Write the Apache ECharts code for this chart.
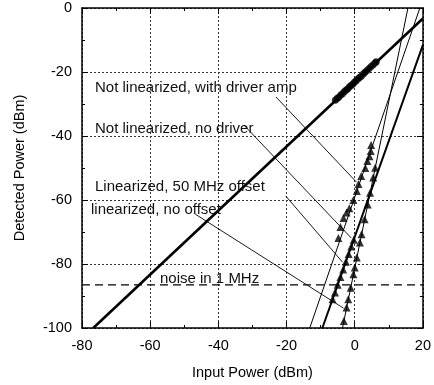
<!DOCTYPE html>
<html>
<head>
<meta charset="utf-8">
<script src="https://cdn.jsdelivr.net/npm/echarts@6.0.0/dist/echarts.min.js"></script>
<style>
html,body{margin:0;padding:0;background:#fff;}
#chart{width:434px;height:385px;}
</style>
</head>
<body>
<div id="chart"></div>
<script>
// axis ranges and ticks
const xTicks = [-80, -60, -40, -20, 0, 20];
const yTicks = [-100, -80, -60, -40, -20, 0];
const noiseLevel = -86.5;

// Not linearized, with driver amp – fundamental (circles)
const fundX = [-5.7, -5.2, -4.7, -4.1, -3.6, -3.1, -2.6, -2.1, -1.6, -1.1, -0.6, -0.1, 0.4, 0.9, 1.4, 1.9, 2.5, 3.0, 3.6, 4.2, 4.8, 5.4, 6.0, 6.3];
const fundY = [-28.8, -28.3, -27.9, -27.2, -26.8, -26.2, -25.7, -25.3, -24.7, -24.2, -23.8, -23.2, -22.7, -22.2, -21.7, -21.3, -20.6, -20.1, -19.5, -18.9, -18.3, -17.7, -17.1, -16.8];

// triangles
const driverX = [4.8, 4.7, 4.3, 3.7, 3.1, 1.9, 1.1, 0.6, -0.4, -1.6, -2.4, -3.3, -4.2, -4.8];
const driverY = [-42.8, -44.7, -46.3, -47.8, -50.0, -52.5, -55.0, -57.2, -60.0, -62.6, -63.9, -65.6, -68.4, -71.9];
const noDriverX = [-0.3, -1.0, -1.8, -2.6, -3.4, -4.2, -5.0, -5.8, -6.5];
const noDriverY = [-72.4, -74.5, -76.9, -79.3, -81.7, -84.1, -86.5, -88.9, -91.0];
const linX = [6.0, 5.4, 4.5, 3.8, 2.9, 2.0, 1.5, 0.6, 0.0, -0.4, -1.2, -1.9, -2.4, -3.2];
const linY = [-49.9, -53.0, -57.7, -61.4, -66.0, -70.7, -73.3, -78.0, -81.1, -83.2, -87.4, -91.0, -93.6, -97.8];

// fitted lines (end points)
const fitSlope1 = [[-76.7, -100], [20, -3.3]];
const fitSlope3Thin = [[-13.2, -100], [19.1, 0]];
const fitSlope3Thick = [[-9.5, -100], [20, -11.5]];
const fitSlope5Thin = [[-3.6, -100], [15.6, 0]];

// label leaders
const leaders = [
  [[-23.1, -27.8], [0.5, -54.4]],
  [[-32.5, -36.6], [-1.0, -71.9]],
  [[-20.2, -58.8], [-3.6, -79.4]],
  [[-46.8, -64.4], [-3.3, -93.8]]
];

const labels = [
  {text: 'Not linearized, with driver amp', x: 95, y: 88},
  {text: 'Not linearized, no driver', x: 95, y: 129},
  {text: 'Linearized, 50 MHz offset', x: 95, y: 187},
  {text: 'linearized, no offset', x: 91, y: 210},
  {text: 'noise in 1 MHz', x: 160, y: 279}
];

const zip = (xs, ys) => xs.map((x, i) => [x, ys[i]]);
const font = 'Liberation Sans, Arial, sans-serif';
const ink = '#000';

const chart = echarts.init(document.getElementById('chart'));

const axisBase = {
  type: 'value',
  axisLine: {show: true, onZero: false, lineStyle: {color: ink, width: 1.5}},
  axisTick: {show: true, inside: true, length: 6, lineStyle: {color: ink}},
  minorTick: {show: true, splitNumber: 2, length: 3, lineStyle: {color: ink}},
  splitLine: {show: false}
};

const lineSeries = (data, width, extra) => Object.assign({
  type: 'line', data: data, symbol: 'none', silent: true,
  lineStyle: {color: ink, width: width}, z: 3
}, extra || {});

const tri = data => ({
  type: 'scatter', data: data, symbol: 'triangle', symbolSize: 8,
  itemStyle: {color: ink}, z: 4
});

const series = [
  lineSeries(fitSlope1, 2.6),
  lineSeries(fitSlope3Thin, 1),
  lineSeries(fitSlope3Thick, 2),
  lineSeries(fitSlope5Thin, 1),
  lineSeries([[-80, noiseLevel], [20, noiseLevel]], 1.2, {lineStyle: {color: ink, width: 1.2, type: [8, 5]}}),
  {type: 'scatter', data: zip(fundX, fundY), symbol: 'circle', symbolSize: 7, itemStyle: {color: ink}, z: 4},
  tri(zip(driverX, driverY)),
  tri(zip(noDriverX, noDriverY)),
  tri(zip(linX, linY))
];
leaders.forEach(l => series.push(lineSeries(l, 0.9)));

chart.setOption({
  animation: false,
  grid: {left: 82, right: 9, top: 8, bottom: 57},
  xAxis: [
    Object.assign({}, axisBase, {
      min: xTicks[0], max: xTicks[xTicks.length - 1], interval: 20,
      name: 'Input Power (dBm)', nameLocation: 'middle', nameGap: 37,
      nameTextStyle: {fontFamily: font, fontSize: 14.5, color: ink},
      axisLabel: {fontFamily: font, fontSize: 14.5, color: ink, margin: 10},
      splitLine: {show: true, lineStyle: {color: '#333', width: 1, type: [2, 2]}}
    }),
    Object.assign({}, axisBase, {
      position: 'top', min: -80, max: 20, interval: 20, axisLabel: {show: false}
    })
  ],
  yAxis: [
    Object.assign({}, axisBase, {
      min: yTicks[0], max: yTicks[yTicks.length - 1], interval: 20,
      name: 'Detected Power (dBm)', nameLocation: 'middle', nameGap: 55,
      nameTextStyle: {fontFamily: font, fontSize: 14.5, color: ink},
      axisLabel: {fontFamily: font, fontSize: 14.5, color: ink, margin: 10},
      splitLine: {show: true, lineStyle: {color: '#333', width: 1, type: [2, 2]}}
    }),
    Object.assign({}, axisBase, {
      position: 'right', min: -100, max: 0, interval: 20, axisLabel: {show: false}
    })
  ],
  graphic: labels.map(l => ({
    type: 'text', x: l.x, y: l.y, z: 10,
    style: {text: l.text, font: '15px ' + font, fill: '#111', verticalAlign: 'middle'}
  })),
  series: series
});
</script>
</body>
</html>
